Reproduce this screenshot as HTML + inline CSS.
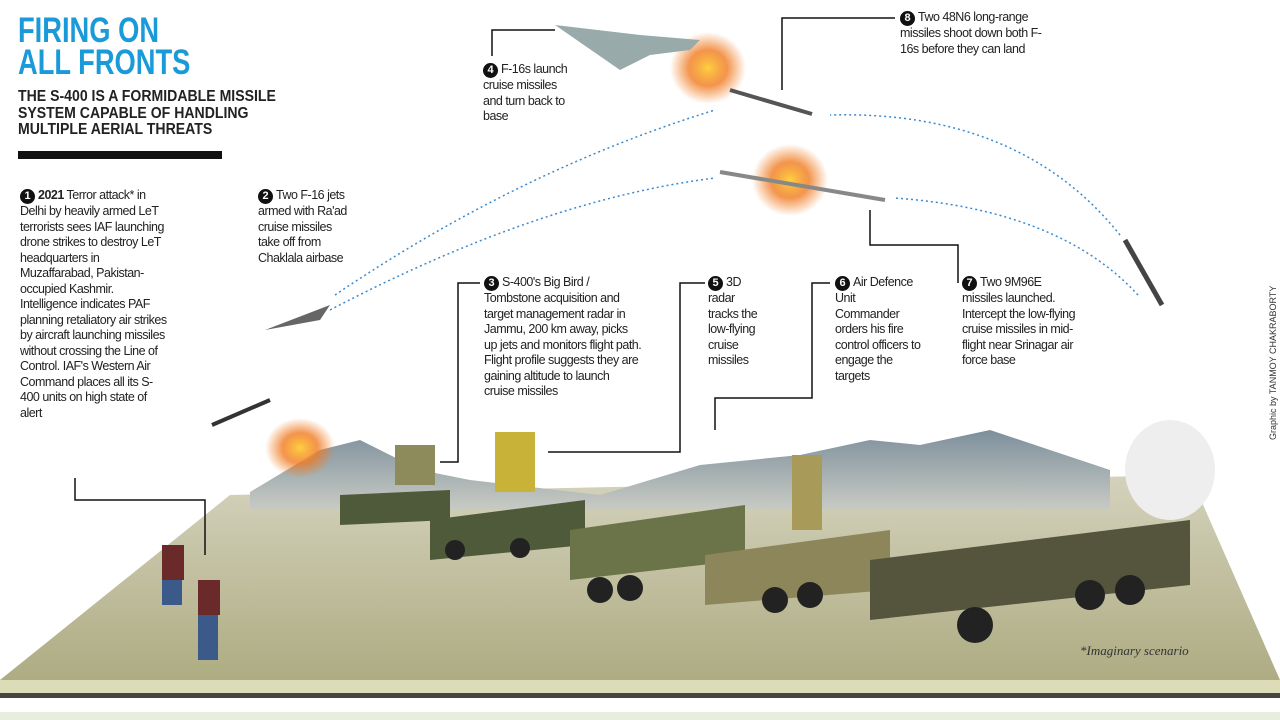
<!DOCTYPE html>
<html><head><meta charset="utf-8"><style>
body{margin:0;width:1280px;height:720px;overflow:hidden;background:#fff;font-family:"Liberation Sans",sans-serif;position:relative}
.t{position:absolute;font-size:12.5px;line-height:15.5px;color:#222;letter-spacing:-0.5px}
.n{display:inline-block;width:15px;height:15px;border-radius:50%;background:#111;color:#fff;font-weight:bold;font-size:11px;text-align:center;line-height:15px;margin-right:3px;letter-spacing:0}
</style></head><body>
<svg width="1280" height="720" style="position:absolute;left:0;top:0">
<defs><linearGradient id="g" x1="0" y1="0" x2="0" y2="1"><stop offset="0" stop-color="#d4d2bc"/><stop offset="1" stop-color="#aeac82"/></linearGradient>
<linearGradient id="m" x1="0" y1="0" x2="0" y2="1"><stop offset="0" stop-color="#7d8f9c"/><stop offset="1" stop-color="#c8cbc4"/></linearGradient>
<radialGradient id="f"><stop offset="0" stop-color="#ffd040"/><stop offset=".5" stop-color="#f07a20" stop-opacity=".8"/><stop offset="1" stop-color="#f07a20" stop-opacity="0"/></radialGradient></defs>
<polygon points="230,495 1190,475 1280,680 0,680" fill="url(#g)"/>
<polygon points="250,492 320,450 360,440 420,470 470,480 600,495 700,465 800,455 870,440 920,445 990,430 1050,450 1110,470 1110,510 250,510" fill="url(#m)"/>
<rect x="0" y="680" width="1280" height="13" fill="#dcdcb8"/>
<rect x="0" y="693" width="1280" height="5" fill="#444"/>
<rect x="0" y="712" width="1280" height="8" fill="#e8eedd"/>
<g fill="#4e5a3a"><polygon points="340,495 450,490 450,520 340,525"/><polygon points="430,520 585,500 585,545 430,560"/><polygon points="570,530 745,505 745,560 570,580" fill="#6a7448"/><polygon points="705,555 890,530 890,590 705,605" fill="#8c865a"/><polygon points="870,560 1190,520 1190,585 870,620" fill="#55553e"/></g>
<rect x="495" y="432" width="40" height="60" fill="#c9b238"/><rect x="792" y="455" width="30" height="75" fill="#a89a58"/><rect x="395" y="445" width="40" height="40" fill="#8d8a5c"/>
<g fill="#222"><circle cx="600" cy="590" r="13"/><circle cx="630" cy="588" r="13"/><circle cx="775" cy="600" r="13"/><circle cx="810" cy="595" r="13"/><circle cx="975" cy="625" r="18"/><circle cx="1090" cy="595" r="15"/><circle cx="1130" cy="590" r="15"/><circle cx="455" cy="550" r="10"/><circle cx="520" cy="548" r="10"/></g>
<ellipse cx="1170" cy="470" rx="45" ry="50" fill="#eee"/><ellipse cx="300" cy="448" rx="35" ry="30" fill="url(#f)"/>
<ellipse cx="708" cy="68" rx="38" ry="36" fill="url(#f)"/><ellipse cx="790" cy="180" rx="38" ry="36" fill="url(#f)"/>
<polygon points="555,25 640,35 700,40 690,50 650,55 620,70" fill="#9aa"/><line x1="730" y1="90" x2="812" y2="114" stroke="#555" stroke-width="4"/>
<line x1="720" y1="172" x2="885" y2="200" stroke="#888" stroke-width="4"/>
<polygon points="265,330 330,305 320,320" fill="#666"/><line x1="212" y1="425" x2="270" y2="400" stroke="#333" stroke-width="4"/>
<line x1="1125" y1="240" x2="1162" y2="305" stroke="#444" stroke-width="5"/>
<g fill="#6a2a2a"><rect x="162" y="545" width="22" height="35"/><rect x="198" y="580" width="22" height="35"/></g>
<g fill="#3b5a8a"><rect x="162" y="580" width="20" height="25"/><rect x="198" y="615" width="20" height="45"/></g>
<g fill="none" stroke="#3a8ad0" stroke-width="1.5" stroke-dasharray="2 3">
<path d="M335,295 Q520,170 715,110"/><path d="M330,310 Q540,200 715,178"/><path d="M1120,235 Q1020,110 830,115"/><path d="M1138,295 Q1060,210 895,198"/></g>
<g fill="none" stroke="#111" stroke-width="1.5">
<polyline points="492,56 492,30 555,30"/><polyline points="782,90 782,18 895,18"/>
<polyline points="75,478 75,500 205,500 205,555"/><polyline points="440,462 458,462 458,283 480,283"/>
<polyline points="548,452 680,452 680,283 705,283"/><polyline points="715,430 715,398 812,398 812,283 830,283"/>
<polyline points="870,210 870,245 958,245 958,283"/></g>
<rect x="18" y="151" width="204" height="8" fill="#111"/>
</svg>
<div style="position:absolute;left:18px;top:15px;font-size:35px;line-height:32px;font-weight:bold;color:#1a9ad8;transform:scaleX(0.78);transform-origin:left top;white-space:nowrap">FIRING ON<br>ALL FRONTS</div>
<div style="position:absolute;left:18px;top:89px;font-size:16px;line-height:16.5px;font-weight:bold;color:#222;transform:scaleX(0.88);transform-origin:left top;white-space:nowrap">THE S-400 IS A FORMIDABLE MISSILE<br>SYSTEM CAPABLE OF HANDLING<br>MULTIPLE AERIAL THREATS</div>
<div class="t" style="left:20px;top:188px;width:148px"><span class="n">1</span><b>2021</b> Terror attack* in Delhi by heavily armed LeT terrorists sees IAF launching drone strikes to destroy LeT headquarters in Muzaffarabad, Pakistan-occupied Kashmir. Intelligence indicates PAF planning retaliatory air strikes by aircraft launching missiles without crossing the Line of Control. IAF's Western Air Command places all its S-400 units on high state of alert</div>
<div class="t" style="left:258px;top:188px;width:92px"><span class="n">2</span>Two F-16 jets armed with Ra'ad cruise missiles take off from Chaklala airbase</div>
<div class="t" style="left:483px;top:62px;width:95px"><span class="n">4</span>F-16s launch cruise missiles and turn back to base</div>
<div class="t" style="left:900px;top:10px;width:148px"><span class="n">8</span>Two 48N6 long-range missiles shoot down both F-16s before they can land</div>
<div class="t" style="left:484px;top:275px;width:158px"><span class="n">3</span>S-400's Big Bird / Tombstone acquisition and target management radar in Jammu, 200 km away, picks up jets and monitors flight path. Flight profile suggests they are gaining altitude to launch cruise missiles</div>
<div class="t" style="left:708px;top:275px;width:50px"><span class="n">5</span>3D radar tracks the low-flying cruise missiles</div>
<div class="t" style="left:835px;top:275px;width:86px"><span class="n">6</span>Air Defence Unit Commander orders his fire control officers to engage the targets</div>
<div class="t" style="left:962px;top:275px;width:115px"><span class="n">7</span>Two 9M96E missiles launched. Intercept the low-flying cruise missiles in mid-flight near Srinagar air force base</div>
<div style="position:absolute;left:1080px;top:643px;font-family:'Liberation Serif',serif;font-style:italic;font-size:13px;color:#333">*Imaginary scenario</div>
<div style="position:absolute;left:1268px;top:440px;transform:rotate(-90deg);transform-origin:left top;font-size:9px;color:#333;white-space:nowrap">Graphic by TANMOY CHAKRABORTY</div>
</body></html>
